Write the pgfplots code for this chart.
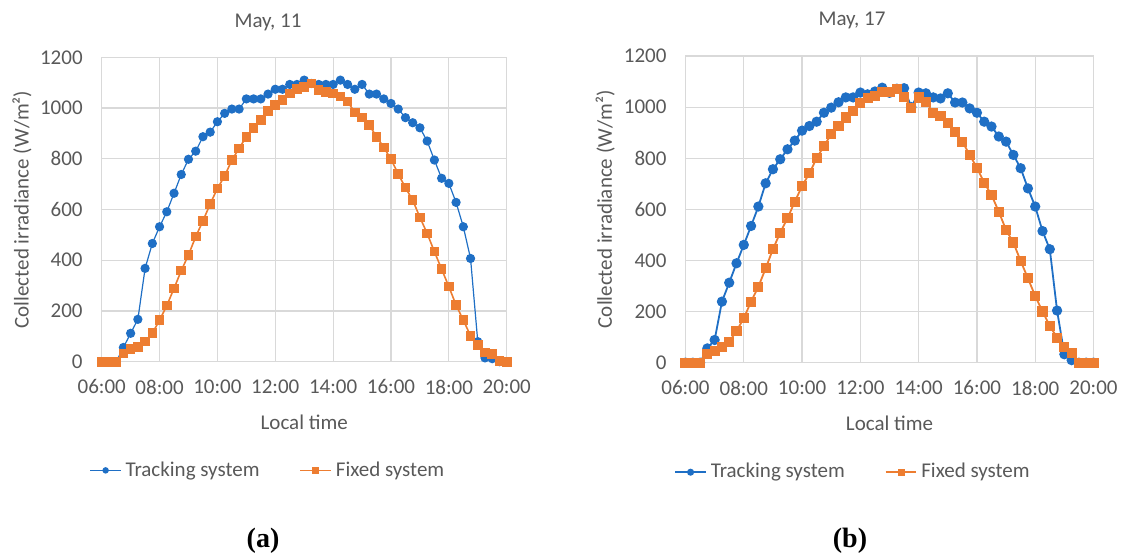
\documentclass[border=0pt]{standalone}
\usepackage{fontspec}
\setmainfont{Carlito}
\newfontfamily\labfont{Liberation Serif}
\usepackage{pgfplots}
\usepackage{pgfplotstable}
\pgfplotsset{compat=1.18}
\definecolor{trk}{HTML}{1F6FC5}
\definecolor{fix}{HTML}{ED7D31}
\definecolor{txt}{HTML}{595959}
\definecolor{grd}{HTML}{D9D9D9}

\pgfplotstableread{
t v
6.00 0
6.25 0
6.50 0
6.75 56
7.00 112
7.25 167
7.50 368
7.75 466
8.00 532
8.25 591
8.50 664
8.75 738
9.00 798
9.25 830
9.50 887
9.75 905
10.00 946
10.25 979
10.50 996
10.75 996
11.00 1036
11.25 1036
11.50 1036
11.75 1055
12.00 1074
12.25 1074
12.50 1093
12.75 1093
13.00 1110
13.25 1097
13.50 1093
13.75 1093
14.00 1093
14.25 1110
14.50 1093
14.75 1074
15.00 1093
15.25 1055
15.50 1055
15.75 1036
16.00 1018
16.25 996
16.50 962
16.75 942
17.00 922
17.25 870
17.50 795
17.75 723
18.00 703
18.25 628
18.50 532
18.75 407
19.00 79
19.25 15
19.50 12
19.75 0
20.00 0
}\LeftTrack

\pgfplotstableread{
t v
6.00 0
6.25 0
6.50 0
6.75 33
7.00 49
7.25 59
7.50 79
7.75 112
8.00 164
8.25 221
8.50 289
8.75 359
9.00 421
9.25 493
9.50 555
9.75 622
10.00 683
10.25 732
10.50 795
10.75 841
11.00 887
11.25 922
11.50 953
11.75 988
12.00 1012
12.25 1032
12.50 1058
12.75 1074
13.00 1084
13.25 1097
13.50 1071
13.75 1064
14.00 1058
14.25 1045
14.50 1025
14.75 983
15.00 963
15.25 933
15.50 887
15.75 845
16.00 798
16.25 740
16.50 686
16.75 637
17.00 569
17.25 506
17.50 434
17.75 365
18.00 296
18.25 223
18.50 164
18.75 102
19.00 66
19.25 37
19.50 30
19.75 3
20.00 0
}\LeftFixed

\pgfplotstableread{
t v
6.00 0
6.25 0
6.50 0
6.75 56
7.00 89
7.25 239
7.50 313
7.75 389
8.00 461
8.25 535
8.50 611
8.75 702
9.00 757
9.25 796
9.50 835
9.75 869
10.00 908
10.25 926
10.50 943
10.75 978
11.00 998
11.25 1019
11.50 1038
11.75 1038
12.00 1057
12.25 1050
12.50 1061
12.75 1076
13.00 1056
13.25 1072
13.50 1074
13.75 1000
14.00 1057
14.25 1054
14.50 1038
14.75 1034
15.00 1054
15.25 1018
15.50 1018
15.75 995
16.00 978
16.25 943
16.50 924
16.75 885
17.00 865
17.25 813
17.50 761
17.75 682
18.00 611
18.25 515
18.50 444
18.75 204
19.00 33
19.25 10
19.50 0
19.75 0
20.00 0
}\RightTrack

\pgfplotstableread{
t v
6.00 0
6.25 0
6.50 0
6.75 34
7.00 46
7.25 60
7.50 82
7.75 124
8.00 174
8.25 239
8.50 297
8.75 369
9.00 444
9.25 509
9.50 565
9.75 630
10.00 691
10.25 741
10.50 800
10.75 848
11.00 894
11.25 926
11.50 959
11.75 985
12.00 1015
12.25 1035
12.50 1045
12.75 1058
13.00 1058
13.25 1070
13.50 1041
13.75 995
14.00 1038
14.25 1021
14.50 978
14.75 965
15.00 939
15.25 904
15.50 865
15.75 813
16.00 763
16.25 704
16.50 656
16.75 591
17.00 519
17.25 470
17.50 398
17.75 330
18.00 261
18.25 200
18.50 144
18.75 98
19.00 63
19.25 37
19.50 0
19.75 0
20.00 0
}\RightFixed

\pgfplotsset{myax/.style={
  scale only axis, anchor=south west, clip=false,
  xmin=6, xmax=20, ymin=0, ymax=1200,
  xtick={6,8,...,20},
  xticklabels={06:00,08:00,10:00,12:00,14:00,16:00,18:00,20:00},
  ytick={0,200,...,1200},
  grid=major, major grid style={grd, line width=0.6pt},
  axis line style={grd, line width=0.6pt}, tick style={draw=none},
  ticklabel style={txt, font=\fontsize{10.5}{12}\selectfont},
  /pgf/number format/assume math mode=true,
  /pgf/number format/1000 sep={},
  xticklabel style={yshift=-5.5pt},
  yticklabel style={xshift=-6pt},
  xlabel={Local time}, ylabel={Collected irradiance (W/m²)},
  label style={txt, font=\fontsize{10.5}{12}\selectfont},
  xlabel style={at={(axis description cs:0.5,-0.198)}, anchor=center},
  ylabel style={at={(axis description cs:-0.197,0.5)}, anchor=center},
  legend columns=2,
  legend image code/.code={\draw[mark repeat=2,mark phase=2,#1,mark size=1.3pt] plot coordinates {(0cm,0cm) (0.27cm,0cm) (0.54cm,0cm)};},
  legend style={draw=none, fill=none, at={(axis description cs:0.413,-0.357)}, anchor=center,
     font=\fontsize{10.5}{12}\selectfont, text=txt,
     /tikz/every even column/.append style={column sep=18pt}},
}}

\begin{document}
\begin{tikzpicture}[x=1pt,y=1pt]
\useasboundingbox (0,0) rectangle (561.5,279);
\begin{axis}[myax, at={(50.85pt,98.15pt)}, width=202.5pt, height=152.2pt]
\addplot[trk, line width=0.6pt, mark=*, mark size=2pt, mark options={fill=trk, draw=trk}] table[x=t,y=v] {\LeftTrack};
\addlegendentry{Tracking system}
\addplot[fix, line width=0.8pt, mark=square*, mark size=2pt, mark options={fill=fix, draw=fix}] table[x=t,y=v] {\LeftFixed};
\addlegendentry{Fixed system}
\end{axis}
\begin{axis}[myax, at={(342.75pt,97.65pt)}, width=204pt, height=153.35pt]
\addplot[trk, line width=0.9pt, mark=*, mark size=2.1pt, mark options={fill=trk, draw=trk}] table[x=t,y=v] {\RightTrack};
\addlegendentry{Tracking system}
\addplot[fix, line width=0.9pt, mark=square*, mark size=2.1pt, mark options={fill=fix, draw=fix}] table[x=t,y=v] {\RightFixed};
\addlegendentry{Fixed system}
\end{axis}
\node[txt, font=\fontsize{10.5}{12}\selectfont] at (134,268) {May, 11};
\node[txt, font=\fontsize{10.5}{12}\selectfont] at (426,269) {May, 17};
\node[font=\labfont\bfseries\fontsize{14}{16}\selectfont] at (131.5,8.5) {(a)};
\node[font=\labfont\bfseries\fontsize{14}{16}\selectfont] at (425,8.5) {(b)};
\end{tikzpicture}
\end{document}
